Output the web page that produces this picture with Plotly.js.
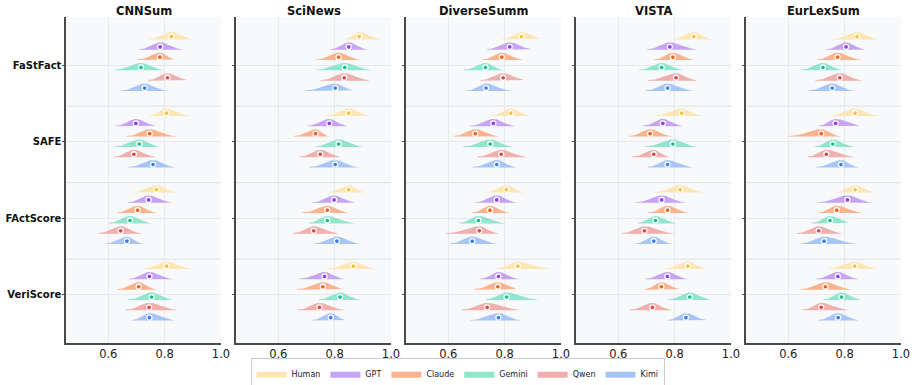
<!DOCTYPE html>
<html>
<head>
<meta charset="utf-8">
<script src="https://cdn.plot.ly/plotly-3.0.1.min.js"></script>
<style>
  html, body { margin: 0; padding: 0; background: #ffffff; }
  #chart { width: 915px; height: 385px; }
</style>
</head>
<body>
<div id="chart"></div>
<script>
// Score distributions per model: median, lower end, upper end.
// Each array holds 20 values: datasets in order, four metrics per dataset.
const datasets = ['CNNSum', 'SciNews', 'DiverseSumm', 'VISTA', 'EurLexSum'];
const metrics = ['FaStFact', 'SAFE', 'FActScore', 'VeriScore'];
const models = ['Human', 'GPT', 'Claude', 'Gemini', 'Qwen', 'Kimi'];

const humanMedian = [0.824, 0.806, 0.771, 0.807, 0.887, 0.850, 0.850, 0.867, 0.860, 0.822, 0.806, 0.847, 0.868, 0.825, 0.820, 0.847, 0.844, 0.837, 0.837, 0.836];
const humanLow    = [0.746, 0.746, 0.686, 0.723, 0.836, 0.770, 0.781, 0.774, 0.792, 0.753, 0.734, 0.766, 0.792, 0.727, 0.731, 0.760, 0.759, 0.749, 0.770, 0.740];
const humanHigh   = [0.902, 0.890, 0.841, 0.899, 0.968, 0.926, 0.907, 0.945, 0.932, 0.892, 0.871, 0.964, 0.931, 0.898, 0.901, 0.913, 0.920, 0.919, 0.910, 0.916];

const gptMedian = [0.784, 0.698, 0.743, 0.746, 0.850, 0.781, 0.798, 0.764, 0.818, 0.760, 0.772, 0.778, 0.783, 0.758, 0.754, 0.774, 0.805, 0.768, 0.810, 0.776];
const gptLow    = [0.709, 0.626, 0.669, 0.673, 0.784, 0.702, 0.720, 0.673, 0.737, 0.678, 0.695, 0.713, 0.702, 0.687, 0.662, 0.695, 0.734, 0.707, 0.705, 0.699];
const gptHigh   = [0.866, 0.774, 0.828, 0.832, 0.917, 0.846, 0.874, 0.838, 0.903, 0.838, 0.844, 0.853, 0.883, 0.829, 0.841, 0.848, 0.874, 0.863, 0.901, 0.851];

const claudeMedian = [0.783, 0.747, 0.704, 0.708, 0.814, 0.732, 0.774, 0.758, 0.790, 0.696, 0.748, 0.776, 0.794, 0.713, 0.775, 0.753, 0.775, 0.717, 0.772, 0.732];
const claudeLow    = [0.704, 0.666, 0.630, 0.632, 0.734, 0.654, 0.684, 0.666, 0.722, 0.617, 0.684, 0.693, 0.727, 0.638, 0.705, 0.695, 0.703, 0.601, 0.705, 0.644];
const claudeHigh   = [0.842, 0.842, 0.774, 0.772, 0.893, 0.782, 0.853, 0.834, 0.866, 0.781, 0.820, 0.851, 0.873, 0.793, 0.851, 0.825, 0.860, 0.787, 0.865, 0.826];

const geminiMedian = [0.716, 0.710, 0.677, 0.754, 0.836, 0.814, 0.774, 0.819, 0.732, 0.749, 0.707, 0.807, 0.754, 0.794, 0.732, 0.854, 0.723, 0.758, 0.748, 0.789];
const geminiLow    = [0.622, 0.624, 0.601, 0.671, 0.732, 0.731, 0.708, 0.745, 0.654, 0.653, 0.638, 0.734, 0.673, 0.695, 0.669, 0.777, 0.644, 0.695, 0.684, 0.725];
const geminiHigh   = [0.799, 0.782, 0.754, 0.831, 0.935, 0.902, 0.874, 0.892, 0.796, 0.828, 0.805, 0.921, 0.834, 0.880, 0.808, 0.931, 0.794, 0.835, 0.823, 0.859];

const qwenMedian = [0.810, 0.691, 0.644, 0.745, 0.834, 0.749, 0.726, 0.746, 0.795, 0.788, 0.710, 0.738, 0.805, 0.726, 0.693, 0.721, 0.783, 0.735, 0.708, 0.717];
const qwenLow    = [0.740, 0.620, 0.566, 0.661, 0.750, 0.677, 0.651, 0.668, 0.713, 0.703, 0.592, 0.648, 0.707, 0.648, 0.613, 0.641, 0.696, 0.669, 0.630, 0.651];
const qwenHigh   = [0.889, 0.770, 0.720, 0.849, 0.927, 0.825, 0.817, 0.837, 0.881, 0.881, 0.780, 0.860, 0.881, 0.783, 0.801, 0.790, 0.863, 0.837, 0.794, 0.816];

const kimiMedian = [0.729, 0.759, 0.666, 0.746, 0.802, 0.802, 0.808, 0.786, 0.734, 0.772, 0.685, 0.778, 0.775, 0.775, 0.726, 0.840, 0.756, 0.787, 0.727, 0.777];
const kimiLow    = [0.648, 0.671, 0.590, 0.684, 0.697, 0.709, 0.727, 0.720, 0.666, 0.687, 0.605, 0.679, 0.698, 0.705, 0.662, 0.774, 0.672, 0.698, 0.644, 0.707];
const kimiHigh   = [0.810, 0.838, 0.725, 0.840, 0.874, 0.886, 0.891, 0.844, 0.824, 0.842, 0.775, 0.859, 0.866, 0.866, 0.790, 0.920, 0.835, 0.849, 0.844, 0.851];

const fillColors = ['#fde6b4', '#c6a4f2', '#fbb38d', '#8fe6cb', '#eeafad', '#a7c5f8'];
const dotColors  = ['#f5c240', '#8a42ee', '#f4621c', '#16c08e', '#e0474c', '#3a7ff2'];

const stats = [
  [humanMedian, humanLow, humanHigh],
  [gptMedian, gptLow, gptHigh],
  [claudeMedian, claudeLow, claudeHigh],
  [geminiMedian, geminiLow, geminiHigh],
  [qwenMedian, qwenLow, qwenHigh],
  [kimiMedian, kimiLow, kimiHigh]
];

// vertical layout of the half-violins inside a metric group (y axis runs downward)
const slot = 0.1345;
const peakHeight = 0.097;
const dotLift = 0.038;
const offsets = models.map((_, k) => (k - 2.5) * slot);

// half-violin outline: smooth bump peaking at the median, ending at the observed range
function halfViolin(lo, med, hi, base) {
  const xs = [], ys = [];
  const n = 60;
  for (let i = 0; i <= n; i++) {
    const x = lo + (hi - lo) * i / n;
    const s = (x < med ? (med - lo) : (hi - med)) / 2.5;
    const h = peakHeight * Math.exp(-0.5 * Math.pow((x - med) / s, 2));
    xs.push(x); ys.push(base - Math.max(h, 0.008));
  }
  xs.push(hi, lo); ys.push(base, base);
  return { xs, ys };
}

const traces = [];
datasets.forEach((ds, d) => {
  const xa = d === 0 ? 'x' : 'x' + (d + 1);
  const ya = d === 0 ? 'y' : 'y' + (d + 1);
  models.forEach((model, k) => {
    const [medArr, loArr, hiArr] = stats[k];
    const dotX = [], dotY = [];
    metrics.forEach((mt, m) => {
      const idx = d * metrics.length + m;
      const base = m + offsets[k];
      const shape = halfViolin(loArr[idx], medArr[idx], hiArr[idx], base);
      traces.push({
        type: 'scatter', mode: 'lines', x: shape.xs, y: shape.ys,
        xaxis: xa, yaxis: ya, fill: 'toself', fillcolor: fillColors[k],
        line: { width: 0, color: fillColors[k] }, hoverinfo: 'skip',
        name: model, legendgroup: model, showlegend: d === 0 && m === 0
      });
      dotX.push(medArr[idx]);
      dotY.push(base - dotLift);
    });
    traces.push({
      type: 'scatter', mode: 'markers', x: dotX, y: dotY, xaxis: xa, yaxis: ya,
      marker: { size: 5, color: dotColors[k], line: { color: '#ffffff', width: 1.3 } },
      hoverinfo: 'skip', showlegend: false, legendgroup: model
    });
  });
});

const plotW = 835, panelW = 155, panelStep = 170;
const layout = {
  width: 915, height: 385,
  margin: { l: 66, r: 14, t: 17, b: 42, autoexpand: false },
  paper_bgcolor: '#ffffff', plot_bgcolor: '#f8f9fb',
  font: { family: 'DejaVu Sans, sans-serif', color: '#222222' },
  showlegend: true,
  legend: {
    orientation: 'h', x: (457.5 - 66) / plotW, xanchor: 'center', y: -0.047, yanchor: 'top',
    font: { size: 8, color: '#222222' }, bordercolor: '#cccccc', borderwidth: 1,
    bgcolor: '#ffffff', itemwidth: 30, traceorder: 'normal'
  },
  annotations: [], shapes: []
};

datasets.forEach((ds, d) => {
  const xk = d === 0 ? 'xaxis' : 'xaxis' + (d + 1);
  const yk = d === 0 ? 'yaxis' : 'yaxis' + (d + 1);
  const xa = d === 0 ? 'x' : 'x' + (d + 1);
  const ya = d === 0 ? 'y' : 'y' + (d + 1);
  const x0 = d * panelStep / plotW, x1 = (d * panelStep + panelW) / plotW;
  layout[xk] = {
    domain: [x0, x1], anchor: ya, range: [0.45, 1.0],
    tickvals: [0.6, 0.8, 1.0], ticktext: ['0.6', '0.8', '1.0'],
    showgrid: true, gridcolor: '#e8e9ed', gridwidth: 1, zeroline: false,
    showline: true, linecolor: '#4a4a4a', linewidth: 1.6,
    ticks: '', ticklabelstandoff: 0,
    tickfont: { size: 11.5, color: '#222222' }, fixedrange: true
  };
  layout[yk] = {
    domain: [0, 1], anchor: xa, range: [3.63, -0.63],
    tickvals: [0, 1, 2, 3], ticktext: metrics, showticklabels: d === 0,
    showgrid: true, gridcolor: '#e8e9ed', gridwidth: 1, zeroline: false,
    showline: true, linecolor: '#4a4a4a', linewidth: 1.6,
    ticks: 'outside', ticklen: 2, tickcolor: '#4a4a4a', tickwidth: 1,
    ticklabelstandoff: -1,
    tickfont: { size: 10, color: '#111111', weight: 'bold' }, fixedrange: true
  };
  layout.annotations.push({
    text: '<b>' + ds + '</b>', xref: xa + ' domain', yref: 'paper',
    x: 0.5, y: 1, xanchor: 'center', yanchor: 'middle', yshift: 6,
    showarrow: false, font: { size: 11.5, color: '#111111' }
  });
  // separators between metric groups
  for (let m = 0; m < metrics.length - 1; m++) {
    layout.shapes.push({
      type: 'line', xref: xa + ' domain', yref: ya, x0: 0, x1: 1,
      y0: m + 0.535, y1: m + 0.535, layer: 'below',
      line: { color: '#e4e5ea', width: 1.3 }
    });
  }
});

Plotly.newPlot('chart', traces, layout, { displayModeBar: false, staticPlot: true });
</script>
</body>
</html>
